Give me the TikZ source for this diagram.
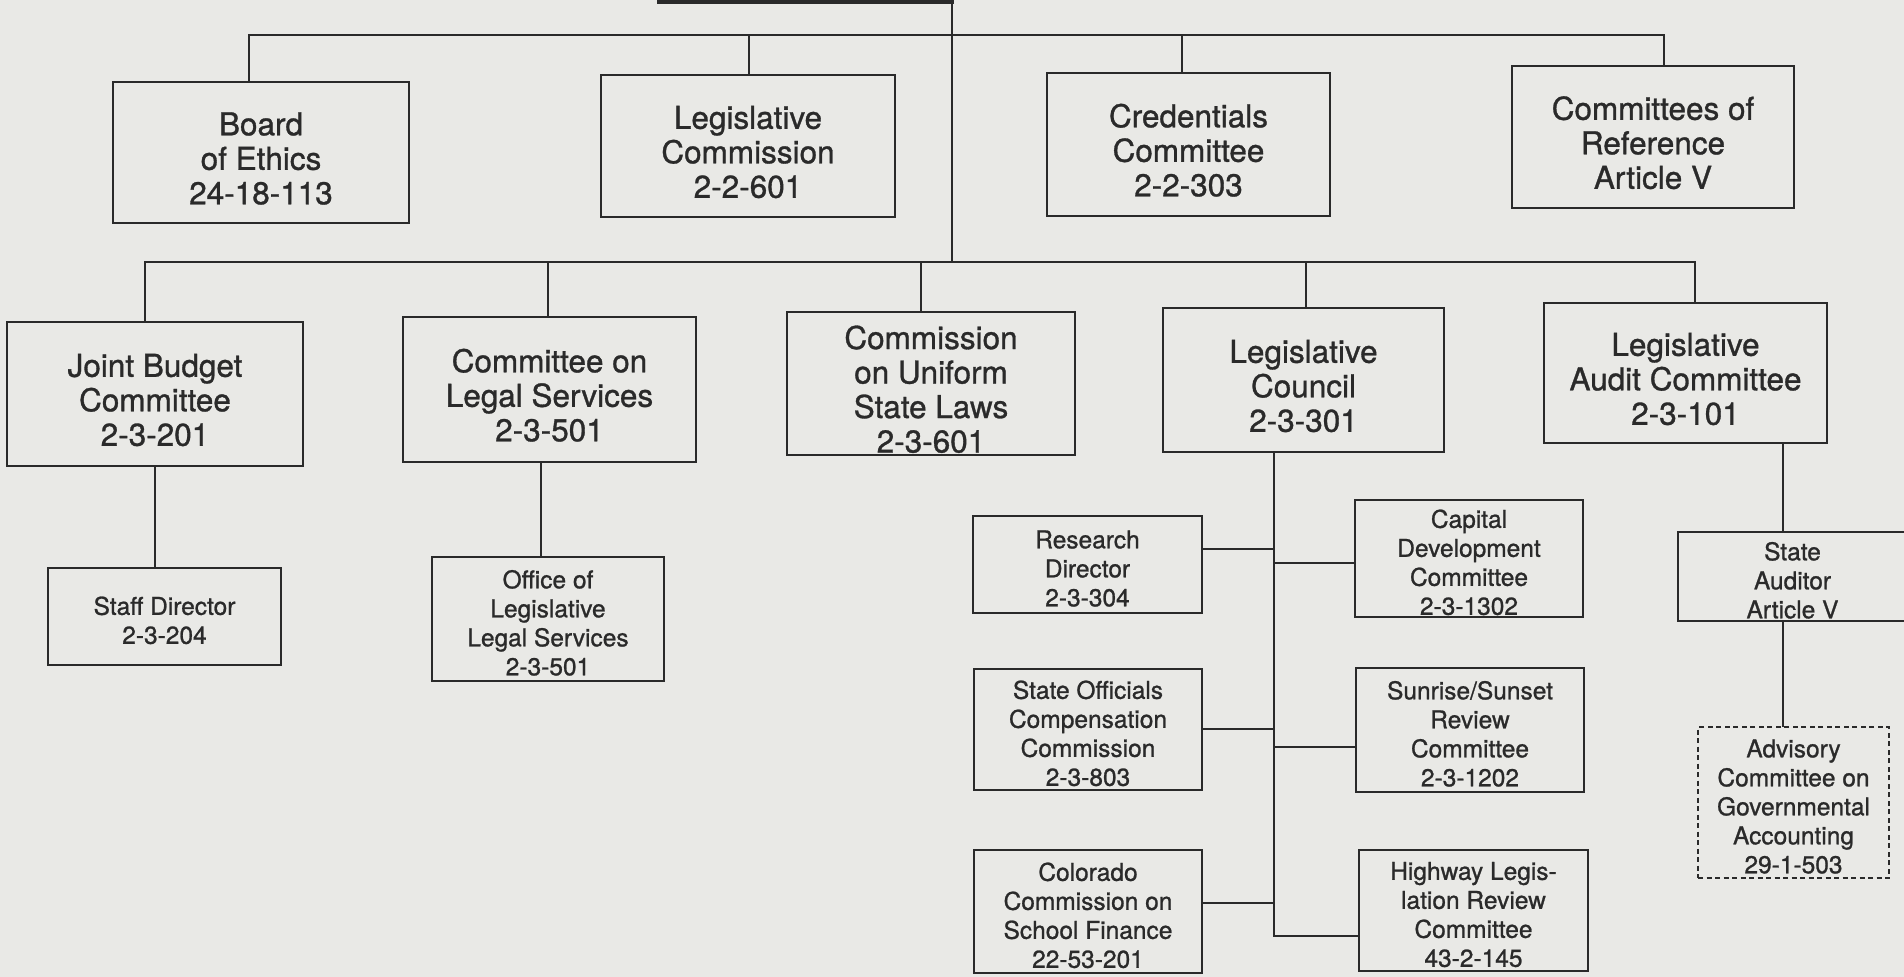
\documentclass[tikz,border=0pt]{standalone}
\usepackage{fontspec}
\setmainfont{TeX Gyre Heros}[FakeBold=1]
\definecolor{paper}{RGB}{233,233,230}
\definecolor{ink}{RGB}{42,42,42}
\newcommand\orgstrut{}
\tikzset{
  unitbox/.style={draw=ink, line width=2.3pt, rectangle, inner sep=0pt,
    align=center, text=ink, /utils/exec={\def\orgstrut{\rule{0pt}{35pt}}},
    font=\fontsize{31.5}{34.5}\selectfont},
  smallbox/.style={unitbox, /utils/exec={\def\orgstrut{\rule{0pt}{26pt}}},
    font=\fontsize{24.5}{29}\selectfont},
  advbox/.style={smallbox, line width=1.6pt, dash pattern=on 5pt off 3.5pt},
  rootbox/.style={draw=ink, line width=4.5pt, rectangle, inner sep=0pt},
  hlink/.style={draw=ink, line width=2.4pt, line cap=rect},
  vlink/.style={draw=ink, line width=1.5pt, line cap=rect},
}
% \orgnode{style}{name}{x1}{y1}{x2}{y2}{text}: a box given by its corners
\newcommand\orgnode[7]{%
  \node[#1, minimum width={(#5)-(#3)}, minimum height={(#6)-(#4)}]
    (#2) at ({((#3)+(#5))/2},{((#4)+(#6))/2}) {\orgstrut#7};}
\begin{document}
\begin{tikzpicture}[x=1pt, y=-1pt]
\useasboundingbox (0,0) rectangle (1904,977);
\fill[paper] (0,0) rectangle (1904,977);
\clip (0,0) rectangle (1904,977);

% top of the chart: the parent body
\node[rootbox, minimum width=293, minimum height=82] (root) at (805.5,-39) {};

% first tier
\orgnode{unitbox}{ethics}{113}{82}{409}{223}{Board\\of Ethics\\24-18-113}
\orgnode{unitbox}{legcomm}{601}{75}{895}{217}{Legislative\\Commission\\2-2-601}
\orgnode{unitbox}{credentials}{1047}{73}{1330}{216}{Credentials\\Committee\\2-2-303}
\orgnode{unitbox}{reference}{1512}{66}{1794}{208}{Committees of\\Reference\\Article V}

% second tier
\orgnode{unitbox}{jbc}{7}{322}{303}{466}{Joint Budget\\Committee\\2-3-201}
\orgnode{unitbox}{cls}{403}{317}{696}{462}{Committee on\\Legal Services\\2-3-501}
\orgnode{unitbox}{cusl}{787}{312}{1075}{455}{Commission\\on Uniform\\State Laws\\2-3-601}
\orgnode{unitbox}{council}{1163}{308}{1444}{452}{Legislative\\Council\\2-3-301}
\orgnode{unitbox}{audit}{1544}{303}{1827}{443}{Legislative\\Audit Committee\\2-3-101}

% staff offices and subcommittees
\orgnode{smallbox}{staff}{48}{568}{281}{665}{Staff Director\\2-3-204}
\orgnode{smallbox}{ols}{432}{557}{664}{681}{Office of\\Legislative\\Legal Services\\2-3-501}
\orgnode{smallbox}{research}{973}{516}{1202}{613}{Research\\Director\\2-3-304}
\orgnode{smallbox}{capital}{1355}{500}{1583}{617}{Capital\\Development\\Committee\\2-3-1302}
\orgnode{smallbox}{sofficials}{974}{669}{1202}{790}{State Officials\\Compensation\\Commission\\2-3-803}
\orgnode{smallbox}{sunrise}{1356}{668}{1584}{792}{Sunrise/Sunset\\Review\\Committee\\2-3-1202}
\orgnode{smallbox}{colorado}{974}{850}{1202}{973}{Colorado\\Commission on\\School Finance\\22-53-201}
\orgnode{smallbox}{highway}{1359}{850}{1588}{971}{Highway Legis-\\lation Review\\Committee\\43-2-145}
\orgnode{smallbox}{auditor}{1678}{532}{1907}{621}{State\\Auditor\\Article V}
\orgnode{advbox}{advisory}{1698}{727}{1889}{878}{Advisory\\Committee on\\Governmental\\Accounting\\29-1-503}

% bus lines
\coordinate (busA-w) at (249,35);
\coordinate (busA-e) at (1664,35);
\coordinate (tapA2) at (749,35);
\coordinate (tapA3) at (1182,35);
\coordinate (busB-w) at (145,262);
\coordinate (busB-e) at (1695,262);
\coordinate (tapB2) at (548,262);
\coordinate (tapB3) at (921,262);
\coordinate (tapB4) at (1306,262);
\coordinate (trunk) at (952,262);

\draw[vlink] (root.south east -| trunk) -- (trunk);

\draw[hlink] (busA-w) -- (busA-e);
\draw[vlink] (busA-w) -- (busA-w |- ethics.north);
\draw[vlink] (tapA2) -- (tapA2 |- legcomm.north);
\draw[vlink] (tapA3) -- (tapA3 |- credentials.north);
\draw[vlink] (busA-e) -- (busA-e |- reference.north);

\draw[hlink] (busB-w) -- (busB-e);
\draw[vlink] (busB-w) -- (busB-w |- jbc.north);
\draw[vlink] (tapB2) -- (tapB2 |- cls.north);
\draw[vlink] (tapB3) -- (tapB3 |- cusl.north);
\draw[vlink] (tapB4) -- (tapB4 |- council.north);
\draw[vlink] (busB-e) -- (busB-e |- audit.north);

% staff links
\draw[vlink] (jbc.south) -- (jbc.south |- staff.north);
\coordinate (olsX) at (541,0);
\draw[vlink] (cls.south -| olsX) -- (ols.north -| olsX);

% Legislative Council and its bodies
\coordinate (lnk1) at (1274,549);
\coordinate (lnk2) at (1274,563);
\coordinate (lnk3) at (1274,729);
\coordinate (lnk4) at (1274,747);
\coordinate (lnk5) at (1274,903);
\coordinate (lnk6) at (1274,936);
\draw[vlink] (council.south -| lnk6) -- (lnk6);
\draw[hlink] (research.east |- lnk1) -- (lnk1);
\draw[hlink] (lnk2) -- (capital.west |- lnk2);
\draw[hlink] (sofficials.east |- lnk3) -- (lnk3);
\draw[hlink] (lnk4) -- (sunrise.west |- lnk4);
\draw[hlink] (colorado.east |- lnk5) -- (lnk5);
\draw[hlink] (lnk6) -- (highway.west |- lnk6);

% audit line
\coordinate (audX) at (1783,0);
\draw[vlink] (audit.south -| audX) -- (auditor.north -| audX);
\draw[vlink] (auditor.south -| audX) -- (advisory.north -| audX);
\end{tikzpicture}
\end{document}
